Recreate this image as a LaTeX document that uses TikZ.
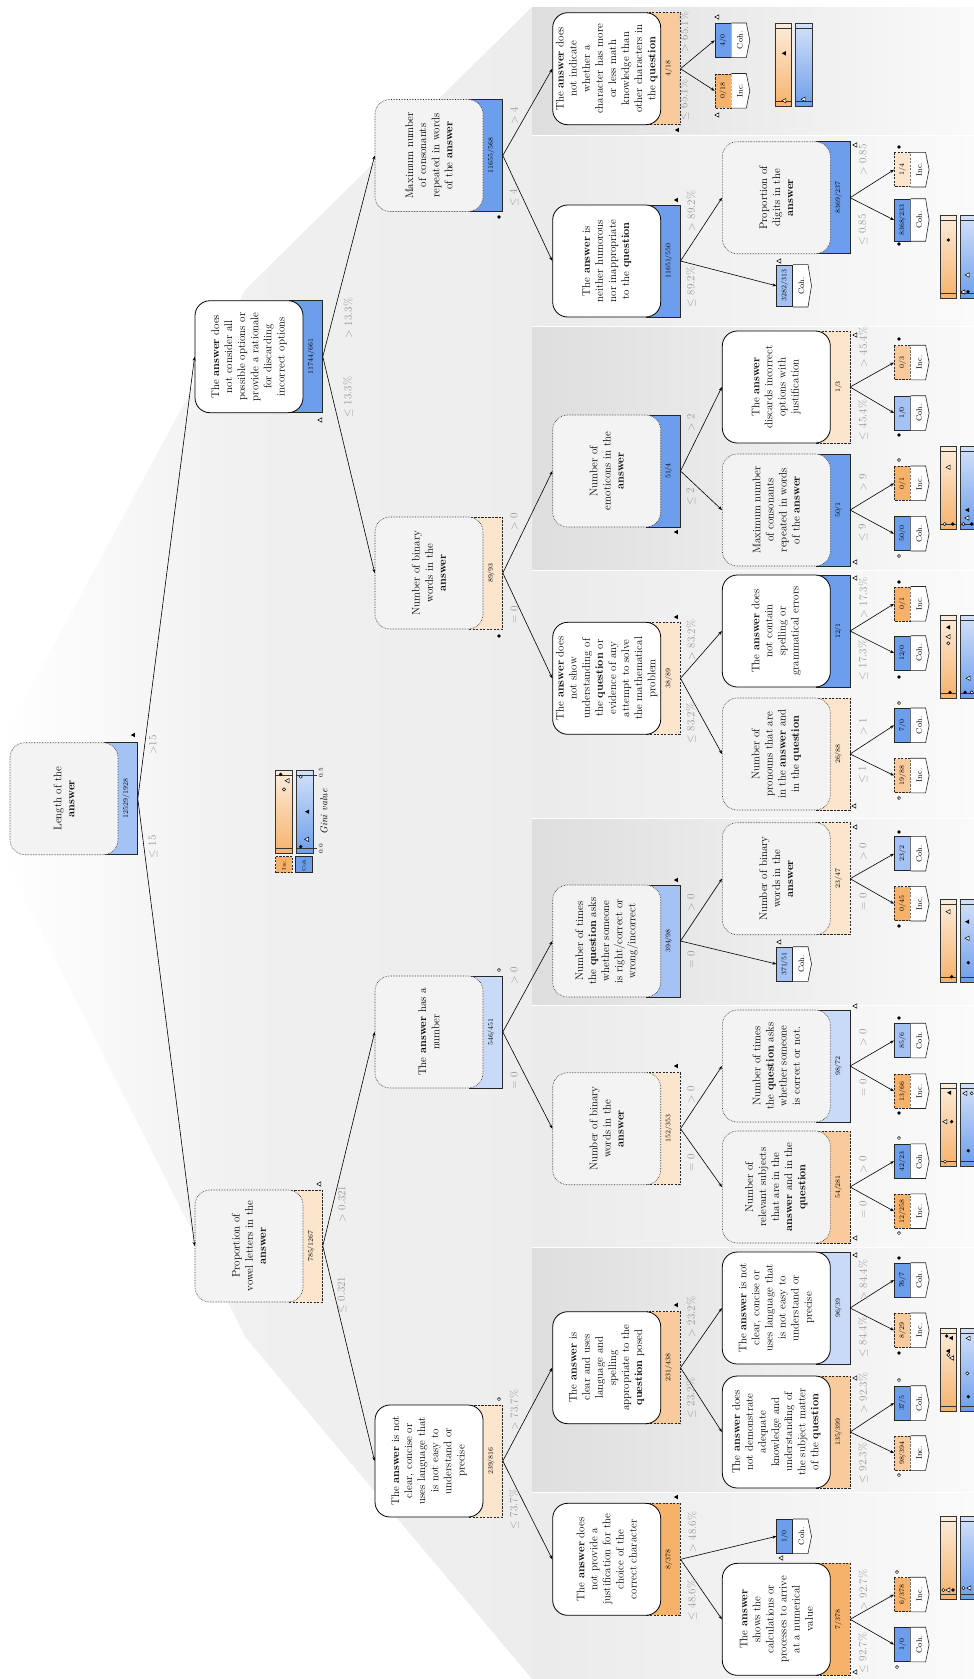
\documentclass[tikz,border=0pt]{standalone}
\usetikzlibrary{arrows.meta,calc}
\definecolor{dblue}{HTML}{6D9EEB}
\definecolor{mblue}{HTML}{A4C2F4}
\definecolor{lblue}{HTML}{C9DAF8}
\definecolor{dorange}{HTML}{F6B26B}
\definecolor{morange}{HTML}{F9CB9C}
\definecolor{lorange}{HTML}{FCE5CD}
\definecolor{boxgray}{HTML}{F3F3F3}
\definecolor{elabgray}{HTML}{959595}
\newcommand\fsmain{\fontsize{11}{13.1}\selectfont}
\newcommand\fsnum{\fontsize{7}{8}\selectfont}
\newcommand\fslab{\fontsize{8}{9}\selectfont}
\newcommand\fsedge{\fontsize{11}{12}\selectfont}
\tikzset{
 edge/.style={line width=0.6pt,-{Stealth[length=4pt,width=3pt]}},
 gbox/.style={rotate=90,draw=black!85,densely dotted,line width=0.6pt,fill=boxgray,rounded corners=15pt,minimum width=112pt,minimum height=108pt,text width=112pt,align=center,inner sep=0pt,font=\fsmain},
 wbox/.style={rotate=90,draw=black,line width=0.8pt,fill=white,rounded corners=15pt,minimum width=112pt,minimum height=108pt,text width=112pt,align=center,inner sep=0pt,font=\fsmain},
 crect/.style={rotate=90,draw=black!85,line width=0.6pt,minimum width=112pt,minimum height=33.5pt,inner sep=0pt},
 solidr/.style={solid},
 dashr/.style={dash pattern=on 2.2pt off 1.3pt},
 cnum/.style={rotate=90,inner sep=0pt,font=\fsnum},
 lcount/.style={rotate=90,draw=black!85,line width=0.6pt,minimum width=34pt,minimum height=16pt,inner xsep=5pt,inner ysep=0pt,font=\fsnum},
 lbox/.style={draw=black!85,line width=0.6pt,fill=white,solid},
 ltext/.style={rotate=90,inner sep=0pt,font=\fslab},
 elab/.style={rotate=90,text=elabgray,inner sep=0pt,font=\fsedge},
 barline/.style={draw=black!80,line width=0.6pt},
}
% internal node: name, left, top, box style, rect fill, rect style, count, text
\newcommand\inode[8]{%
 \node[crect,fill=#5,#6] (#1r) at ({#2+110.75},{#3+56}) {};
 \node[#4] (#1) at ({#2+54},{#3+56}) {#8};
 \node[cnum] (#1n) at ({#2+116},{#3+56}) {#7};
}
% leaf: name, left, center y, count, fill, style, label
\newcommand\leaf[7]{%
 \node[lcount,fill=#5,#6] (#1) at ({#2+8},{#3}) {#4};
 \draw[lbox] (#1.south east) -- ++(15,0) -- ($(#1.south)+(18.5,0)$) -- ($(#1.south west)+(15,0)$) -- (#1.south west);
 \node[ltext] (#1t) at ($(#1.south)+(8.5,0)$) {#7};
}
\newcommand\elabel[4]{\node[elab] (#1) at (#2,#3) {#4};}
\newcommand\mkTf[2]{\fill[black] ({#1-2.2},{#2}) -- ({#1+1.8},{#2-2.2}) -- ({#1+1.8},{#2+2.2}) -- cycle;}
\newcommand\mkTo[2]{\draw[black,line width=0.5pt,fill=white] ({#1-2.2},{#2}) -- ({#1+1.8},{#2-2.2}) -- ({#1+1.8},{#2+2.2}) -- cycle;}
\newcommand\mkCf[2]{\fill[black] (#1,#2) circle[radius=1.8pt];}
\newcommand\mkCo[2]{\draw[black,line width=0.5pt,fill=white] (#1,#2) circle[radius=1.6pt];}
\newcommand\gbars[2]{%
 \shade[top color=lorange!70,bottom color=dorange] (#1,#2) rectangle ({#1+16.7},{#2+83.3});
 \draw[barline] (#1,#2) rectangle ({#1+16.7},{#2+83.3});
 \draw[barline] (#1,{#2+5}) -- ({#1+16.7},{#2+5}) (#1,{#2+78.3}) -- ({#1+16.7},{#2+78.3});
 \shade[top color=lblue!80,bottom color=dblue] ({#1+20.7},#2) rectangle ({#1+37.4},{#2+83.3});
 \draw[barline] ({#1+20.7},#2) rectangle ({#1+37.4},{#2+83.3});
 \draw[barline] ({#1+20.7},{#2+5}) -- ({#1+37.4},{#2+5}) ({#1+20.7},{#2+78.3}) -- ({#1+37.4},{#2+78.3});
}
\newcommand\band[3]{\shade[left color=black!#3,right color=black!2] (532,#1) rectangle (974,#2);}
\begin{document}
\begin{tikzpicture}[x=1pt,y=-1pt]
\useasboundingbox (0,0) rectangle (974,1679);
\fill[white] (0,0) rectangle (974,1679);
% backgrounds
\shade[left color=white,right color=black!6] (0,745) -- (246,289) -- (246,1338) -- (0,850) -- cycle;
\shade[left color=black!6,right color=black!7] (246,289) -- (532,7) -- (532,1679) -- (246,1338) -- cycle;
\band{7}{134}{13}
\band{136}{325}{8}
\band{327}{569}{13}
\band{571}{817}{8}
\band{819}{1004}{13}
\band{1006}{1246}{8}
\band{1248}{1491}{13}
\band{1493}{1679}{8}

% internal nodes
\inode{n0}{10}{742.7}{gbox}{mblue}{solidr}{12529/1928}{Length of the\\\textbf{answer}}
\inode{n1}{195}{300.7}{wbox}{dblue}{solidr}{11744/661}{The \textbf{answer} does\\not consider all\\possible options or\\provide a rationale\\for discarding\\incorrect options}
\inode{n2}{195}{1190}{gbox}{lorange}{dashr}{785/1267}{Proportion of\\vowel letters in the\\\textbf{answer}}
\inode{n3}{375}{99.5}{gbox}{dblue}{solidr}{11655/568}{Maximum number\\of consonants\\repeated in words\\of the \textbf{answer}}
\inode{n4}{375}{517}{gbox}{lorange}{dashr}{89/93}{Number of binary\\words in the\\\textbf{answer}}
\inode{n5}{375}{976}{gbox}{lblue}{solidr}{546/451}{The \textbf{answer} has a\\number}
\inode{n6}{375}{1405}{wbox}{lorange}{dashr}{239/816}{The \textbf{answer} is not\\clear, concise or\\uses language that\\is not easy to\\understand or\\precise}
\inode{n7}{552.7}{12.7}{wbox}{morange}{dashr}{4/18}{The \textbf{answer} does\\not indicate\\whether a\\character has more\\or less math\\knowledge than\\other characters in\\the \textbf{question}}
\inode{n8}{552.7}{205}{wbox}{dblue}{solidr}{11651/550}{The \textbf{answer} is\\neither humorous\\nor inappropriate\\to the \textbf{question}}
\inode{n9}{552.7}{415}{gbox}{dblue}{solidr}{51/4}{Number of\\emoticons in the\\\textbf{answer}}
\inode{n10}{552.7}{622.3}{wbox}{lorange}{dashr}{38/89}{The \textbf{answer} does\\not show\\understanding of\\the \textbf{question} or\\evidence of any\\attempt to solve\\the mathematical\\problem}
\inode{n11}{552.7}{885}{gbox}{mblue}{solidr}{394/98}{Number of times\\the \textbf{question} asks\\whether someone\\is right/correct or\\wrong/incorrect}
\inode{n12}{552.7}{1072.7}{gbox}{lorange}{dashr}{152/353}{Number of binary\\words in the\\\textbf{answer}}
\inode{n13}{552.7}{1311.7}{wbox}{morange}{dashr}{231/438}{The \textbf{answer} is\\clear and uses\\language and\\spelling\\appropriate to the\\\textbf{question} posed}
\inode{n14}{552.7}{1503.3}{wbox}{dorange}{dashr}{8/378}{The \textbf{answer} does\\not provide a\\justification for the\\choice of the\\correct character}
\inode{n15}{722.3}{141.7}{gbox}{dblue}{solidr}{8369/237}{Proportion of\\digits in the\\\textbf{answer}}
\inode{n16}{722.3}{331}{wbox}{lorange}{dashr}{1/3}{The \textbf{answer}\\discards incorrect\\options with\\justification}
\inode{n17}{722.3}{454}{gbox}{dblue}{solidr}{50/1}{Maximum number\\of consonants\\repeated in words\\of the \textbf{answer}}
\inode{n18}{722.3}{575}{wbox}{dblue}{solidr}{12/1}{The \textbf{answer} does\\not contain\\spelling or\\grammatical errors}
\inode{n19}{722.3}{698}{gbox}{lorange}{dashr}{26/88}{Number of\\pronouns that are\\in the \textbf{answer} and\\in the \textbf{question}}
\inode{n20}{722.3}{822.7}{gbox}{lorange}{dashr}{23/47}{Number of binary\\words in the\\\textbf{answer}}
\inode{n21}{722.3}{1010}{gbox}{lblue}{solidr}{98/72}{Number of times\\the \textbf{question} asks\\whether someone\\is correct or not.}
\inode{n22}{722.3}{1131}{gbox}{morange}{dashr}{54/281}{Number of\\relevant subjects\\that are in the\\\textbf{answer} and in the\\\textbf{question}}
\inode{n23}{722.3}{1252}{wbox}{lblue}{solidr}{96/39}{The \textbf{answer} is not\\clear, concise or\\uses language that\\is not easy to\\understand or\\precise}
\inode{n24}{722.3}{1376}{wbox}{morange}{dashr}{135/399}{The \textbf{answer} does\\not demonstrate\\adequate\\knowledge and\\understanding of\\the subject matter\\of the \textbf{question}}
\inode{n25}{722.3}{1563.3}{wbox}{dorange}{dashr}{7/378}{The \textbf{answer}\\shows the\\calculations or\\processes to arrive\\at a numerical\\value}

% leaves
\leaf{a1}{715}{40.3}{4/0}{dblue}{solid}{Coh.}
\leaf{a2}{715}{90.8}{0/18}{dorange}{dashr}{Inc.}
\leaf{a3}{776.7}{285.8}{3282/313}{mblue}{solid}{Coh.}
\leaf{a4}{776.7}{964}{371/51}{mblue}{solid}{Coh.}
\leaf{a5}{776.7}{1536.3}{1/0}{dblue}{solid}{Coh.}
\leaf{b1}{894.3}{169.7}{1/4}{lorange}{dashr}{Inc.}
\leaf{b2}{894.3}{220}{8368/233}{dblue}{solid}{Coh.}
\leaf{b3}{894.3}{362.5}{0/3}{morange}{dashr}{Inc.}
\leaf{b4}{894.3}{413}{1/0}{mblue}{solid}{Coh.}
\leaf{b5}{894.3}{483.3}{0/1}{dorange}{dashr}{Inc.}
\leaf{b6}{894.3}{533.7}{50/0}{dblue}{solid}{Coh.}
\leaf{b7}{894.3}{603.8}{0/1}{dorange}{dashr}{Inc.}
\leaf{b8}{894.3}{653}{12/0}{dblue}{solid}{Coh.}
\leaf{b9}{894.3}{725.3}{7/0}{dblue}{solid}{Coh.}
\leaf{b10}{894.3}{775.5}{19/88}{morange}{dashr}{Inc.}
\leaf{b11}{894.3}{853.7}{23/2}{mblue}{solid}{Coh.}
\leaf{b12}{894.3}{903.7}{0/45}{dorange}{dashr}{Inc.}
\leaf{b13}{894.3}{1040.5}{85/6}{mblue}{solid}{Coh.}
\leaf{b14}{894.3}{1091.2}{13/66}{dorange}{dashr}{Inc.}
\leaf{b15}{894.3}{1161.2}{42/23}{dblue}{solid}{Coh.}
\leaf{b16}{894.3}{1211.2}{12/258}{dorange}{dashr}{Inc.}
\leaf{b17}{894.3}{1280}{76/7}{dblue}{solid}{Coh.}
\leaf{b18}{894.3}{1330.3}{8/29}{morange}{dashr}{Inc.}
\leaf{b19}{894.3}{1403}{37/5}{dblue}{solid}{Coh.}
\leaf{b20}{894.3}{1453}{98/394}{morange}{dashr}{Inc.}
\leaf{b21}{894.3}{1594.5}{6/378}{dorange}{dashr}{Inc.}
\leaf{b22}{894.3}{1644.5}{1/0}{dblue}{solid}{Coh.}

% edges
\foreach \p/\c in {n0/n1,n0/n2,n1/n3,n1/n4,n2/n5,n2/n6,n3/n7,n3/n8,n4/n9,n4/n10,n5/n11,n5/n12,n6/n13,n6/n14,
 n8/n15,n9/n16,n9/n17,n10/n18,n10/n19,n11/n20,n12/n21,n12/n22,n13/n23,n13/n24,n14/n25}
 {\draw[edge] (\p r.south) -- (\c.north);}
\foreach \p/\c in {n7/a1,n7/a2,n8/a3,n11/a4,n14/a5,n15/b1,n15/b2,n16/b3,n16/b4,n17/b5,n17/b6,n18/b7,n18/b8,
 n19/b9,n19/b10,n20/b11,n20/b12,n21/b13,n21/b14,n22/b15,n22/b16,n23/b17,n23/b18,n24/b19,n24/b20,n25/b21,n25/b22}
 {\draw[edge] (\p r.south) -- (\c.north);}

% edge labels
\elabel{e0a}{153}{745}{$>$15}
\elabel{e0b}{153}{847}{$\leq$ 15}
\elabel{e1a}{348}{318}{$>$ 13.3\%}
\elabel{e1b}{348}{397}{$\leq$ 13.3\%}
\elabel{e2a}{342}{1204}{$>$ 0.321}
\elabel{e2b}{342}{1295}{$\leq$ 0.321}
\elabel{e3a}{514}{116}{$>$ 4}
\elabel{e3b}{514}{198}{$\leq$ 4}
\elabel{e4a}{514}{522}{$>$ 0}
\elabel{e4b}{514}{615}{= 0}
\elabel{e5a}{514}{976}{$>$ 0}
\elabel{e5b}{514}{1081}{= 0}
\elabel{e6a}{514}{1410}{$>$ 73.7\%}
\elabel{e6b}{514}{1509}{$\leq$ 73.7\%}
\elabel{e7a}{684}{32}{$>$ 65.1\%}
\elabel{e7b}{684}{100}{$\leq$ 65.1\%}
\elabel{e8a}{691}{211}{$>$ 89.2\%}
\elabel{e8b}{691}{287}{$\leq$ 89.2\%}
\elabel{e9a}{691}{423}{$>$ 2}
\elabel{e9b}{691}{497}{$\leq$ 2}
\elabel{e10a}{691}{640}{$>$ 83.2\%}
\elabel{e10b}{691}{723}{$\leq$ 83.2\%}
\elabel{e11a}{691}{903}{$>$ 0}
\elabel{e11b}{691}{960}{= 0}
\elabel{e12a}{691}{1095}{$>$ 0}
\elabel{e12b}{691}{1163}{= 0}
\elabel{e13a}{691}{1317}{$>$ 23.2\%}
\elabel{e13b}{691}{1398}{$\leq$ 23.2\%}
\elabel{e14a}{692}{1532}{$>$ 48.6\%}
\elabel{e14b}{692}{1600}{$\leq$ 48.6\%}
\elabel{e15a}{863}{160}{$>$ 0.85}
\elabel{e15b}{863}{230}{$\leq$ 0.85}
\elabel{e16a}{863}{347}{$>$ 45.4\%}
\elabel{e16b}{863}{420}{$\leq$ 45.4\%}
\elabel{e17a}{863}{483}{$>$ 9}
\elabel{e17b}{863}{533}{$\leq$ 9}
\elabel{e18a}{863}{598}{$>$ 17.3\%}
\elabel{e18b}{863}{660}{$\leq$ 17.3\%}
\elabel{e19a}{863}{727}{$>$ 1}
\elabel{e19b}{863}{775}{$\leq$ 1}
\elabel{e20a}{863}{852}{$>$ 0}
\elabel{e20b}{863}{902}{= 0}
\elabel{e21a}{863}{1038}{$>$ 0}
\elabel{e21b}{863}{1088}{= 0}
\elabel{e22a}{863}{1165}{$>$ 0}
\elabel{e22b}{863}{1210}{= 0}
\elabel{e23a}{863}{1280}{$>$ 84.4\%}
\elabel{e23b}{863}{1337}{$\leq$ 84.4\%}
\elabel{e24a}{863}{1393}{$>$ 92.3\%}
\elabel{e24b}{863}{1463}{$\leq$ 92.3\%}
\elabel{e25a}{863}{1590}{$>$ 92.7\%}
\elabel{e25b}{863}{1653}{$\leq$ 92.7\%}

% node markers
\mkTf{133}{735}
\mkTo{320}{420}
\mkTo{319}{1184}
\mkCo{499}{1399}
\mkCo{499}{970}
\mkCf{499}{636}
\mkCf{499}{217}
\mkTf{677}{130}
\mkTf{676}{200}
\mkTf{676}{532}
\mkTf{676}{617}
\mkTf{676}{880}
\mkTf{676}{1066}
\mkTf{676}{1305}
\mkTf{676}{1497}
\mkTo{855}{145}
\mkTo{855}{335}
\mkTo{855}{562}
\mkTo{855}{578}
\mkTo{854}{806}
\mkTo{855}{827}
\mkTo{855}{1006}
\mkTo{855}{1238}
\mkTo{855}{1255}
\mkTo{855}{1378}
\mkTo{855}{1672}
% leaf markers
\mkTo{717}{17} \mkTo{717}{115}
\mkTo{779}{261} \mkTo{779}{942} \mkTo{781}{1558}
\mkCf{899}{147} \mkCf{899}{244}
\mkCf{899}{339} \mkCf{899}{435}
\mkCo{899}{460} \mkCo{899}{556}
\mkCf{899}{582} \mkCf{899}{677}
\mkCo{899}{703} \mkCo{899}{798}
\mkCf{899}{832} \mkCf{899}{926}
\mkCf{899}{1018} \mkCf{899}{1113}
\mkCo{899}{1138} \mkCo{899}{1233}
\mkCf{899}{1258} \mkCf{899}{1353}
\mkCo{899}{1380} \mkCo{899}{1475}
\mkCo{897}{1572} \mkCo{897}{1667}

% bars
\gbars{275.7}{770}
\gbars{775}{23.3}
\gbars{940}{215}
\gbars{940}{446}
\gbars{940}{615}
\gbars{940}{899}
\gbars{940}{1083}
\gbars{940}{1328}
\gbars{940}{1516}
% bar markers
\mkCf{280.7}{774.3} \mkTo{287.3}{780.7} \mkCo{284}{789.3}
\mkCo{300.7}{776.7} \mkTf{307.3}{811.7} \mkTo{306.7}{839.3} \mkCf{300.7}{846.7}
\mkTf{784}{53.3} \mkTo{784}{100.7} \mkTo{803.3}{99.3}
\mkCf{948.3}{240} \mkTo{967.3}{275} \mkTo{963}{292} \mkCf{968}{291.7}
\mkTo{948.3}{467.3} \mkCo{944.7}{524} \mkCf{952.7}{524}
\mkTf{967.3}{510} \mkTo{967}{518} \mkCo{963.3}{524} \mkCf{971.7}{524}
\mkTf{948.3}{627.3} \mkTo{948.3}{636.7} \mkCo{948.3}{643.3} \mkCf{950}{692.3}
\mkTo{968.3}{678.3} \mkCf{965}{692.3} \mkCo{971.7}{692.3}
\mkTo{948.3}{911.7} \mkCf{951.7}{976.7}
\mkTf{967.3}{921.7} \mkTo{967.3}{938.3} \mkCf{968.3}{962.7}
\mkTf{949.3}{1092.7} \mkTo{945}{1121.7} \mkCf{951.7}{1121.7} \mkCo{945}{1161.7}
\mkTo{965}{1093.3} \mkCo{971.7}{1093.3} \mkCf{968.3}{1150.7}
\mkCf{946.7}{1336} \mkTf{951}{1338} \mkTf{948}{1351} \mkCo{948.3}{1355} \mkTo{951.7}{1358}
\mkTo{968.3}{1338.3} \mkCo{967.3}{1373.3} \mkCf{968.3}{1396.7}
\mkCo{943.3}{1590} \mkTo{948}{1590} \mkCf{953}{1590}
\mkCo{963.3}{1588} \mkTo{969}{1588}

% legend
\draw[barline] (312.4,775) -- (317,775) (312.4,848.3) -- (317,848.3);
\node[rotate=90,inner sep=0pt,font=\fontsize{6}{7}\selectfont] (leg05) at (321,773) {0.5};
\node[rotate=90,inner sep=0pt,font=\fontsize{6}{7}\selectfont] (leg00) at (321,849) {0.0};
\node[rotate=90,inner sep=0pt,font=\itshape\fontsize{10}{11}\selectfont] (leggini) at (324,812) {Gini value};
\node[rotate=90,draw=black!85,dashr,line width=0.6pt,fill=dorange,minimum width=16pt,minimum height=16.7pt,inner sep=0pt,font=\fontsize{5}{6}\selectfont] (leginc) at (284,864.7) {Inc.};
\node[rotate=90,draw=black!85,line width=0.6pt,fill=dblue,minimum width=16pt,minimum height=16.7pt,inner sep=0pt,font=\fontsize{5}{6}\selectfont] (legcoh) at (304,864.7) {Coh.};
\end{tikzpicture}
\end{document}
